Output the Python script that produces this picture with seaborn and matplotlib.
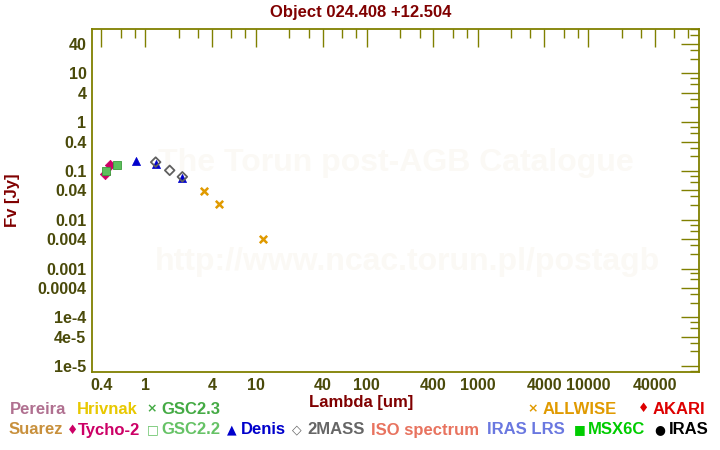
import numpy as np
import pandas as pd
import matplotlib
matplotlib.use("Agg")
import matplotlib.pyplot as plt
import seaborn as sns
from matplotlib.ticker import FixedLocator, NullFormatter

# ---- data ----
tycho_lam = [0.43, 0.478]
tycho_flux = [0.0865, 0.132]
gsc22_lam = [0.443, 0.556]
gsc22_flux = [0.098, 0.134]
denis_lam = [0.82, 1.24, 2.13]
denis_flux = [0.162, 0.138, 0.0726]
mass_lam = [1.24, 1.66, 2.16]
mass_flux = [0.152, 0.103, 0.076]
wise_lam = [3.38, 4.62, 11.5]
wise_flux = [0.0382, 0.021, 0.00402]

xtick_vals = [0.4, 1, 4, 10, 40, 100, 400, 1000, 4000, 10000, 40000]
xtick_labels = ["0.4", "1", "4", "10", "40", "100", "400", "1000", "4000", "10000", "40000"]
ytick_vals = [40, 10, 4, 1, 0.4, 0.1, 0.04, 0.01, 0.004, 0.001, 0.0004, 1e-4, 4e-5, 1e-5]
ytick_labels = ["40", "10", "4", "1", "0.4", "0.1", "0.04", "0.01", "0.004", "0.001",
                "0.0004", "1e-4", "4e-5", "1e-5"]

# (symbol, symbol_x, label, label_x, colour)
legend_row1 = [("", 0, "Pereira", 10, "#b07090"), ("", 0, "Hrivnak", 77, "#e8c800"),
               ("\u00d7", 146, "GSC2.3", 161, "#44aa44"),
               ("\u00d7", 527, "ALLWISE", 543, "#e09a00"),
               ("\u2666", 638, "AKARI", 653, "#dd0000")]
legend_row2 = [("", 0, "Suarez", 9, "#c8903c"), ("\u2666", 66.5, "Tycho-2", 77.5, "#cc0066"),
               ("\u25a1", 147, "GSC2.2", 161, "#66c266"),
               ("\u25b2", 227, "Denis", 241, "#0000cc"),
               ("\u25c7", 292, "2MASS", 307, "#666666"),
               ("", 0, "ISO spectrum", 371, "#e8735f"),
               ("", 0, "IRAS LRS", 487, "#6a78e0"),
               ("\u25a0", 574, "MSX6C", 588, "#00cc00"),
               ("\u25cf", 654, "IRAS", 669, "#000000")]

sns.set_theme(style="white")
plt.rcParams['font.family'] = ['Liberation Sans', 'DejaVu Sans']
plt.rcParams['font.weight'] = 'bold'

W, H = 720, 450
fig = plt.figure(figsize=(W / 100, H / 100), dpi=100)
ax = fig.add_axes([92 / W, 1 - 372 / H, (699 - 92) / W, (372 - 29.3) / H])
ax.set_facecolor("white")

olive = "#808000"
ticklab = "#4a4a0a"
darkred = "#800000"

# watermarks
ax.text(0.5, 0.61, "The Torun post-AGB Catalogue", transform=ax.transAxes,
        ha="center", va="center", fontsize=23, color="#fbf9f5", fontweight="bold", zorder=0)
ax.text(0.52, 0.32, "http://www.ncac.torun.pl/postagb", transform=ax.transAxes,
        ha="center", va="center", fontsize=23, color="#fbf9f5", fontweight="bold", zorder=0)

sns.scatterplot(x=tycho_lam, y=tycho_flux, ax=ax, marker="D", s=28,
                color="#cc0066", edgecolor="#cc0066", linewidth=0.5, zorder=2)
sns.scatterplot(x=gsc22_lam, y=gsc22_flux, ax=ax, marker="s", s=30,
                color="#5cbf5c", edgecolor="#3c9c3c", linewidth=0.6, zorder=3)
sns.scatterplot(x=denis_lam, y=denis_flux, ax=ax, marker="^", s=34,
                color="#0000cc", edgecolor="#0000cc", linewidth=0.5, zorder=3)
sns.scatterplot(x=mass_lam, y=mass_flux, ax=ax, marker="D", s=24,
                facecolor="none", edgecolor="#606060", linewidth=1.3, zorder=4)
sns.scatterplot(x=wise_lam, y=wise_flux, ax=ax, marker="x", s=28,
                color="#e09a00", linewidth=1.8, zorder=3)

ax.set_xscale("log")
ax.set_yscale("log")
ax.set_xlim(0.33, 1.0e5)
ax.set_ylim(7.6e-6, 80)

ax.xaxis.set_major_locator(FixedLocator(xtick_vals))
ax.set_xticklabels(xtick_labels)
ax.yaxis.set_major_locator(FixedLocator(ytick_vals))
ax.set_yticklabels(ytick_labels)

minor = [m * 10.0 ** e for e in range(-7, 7) for m in (2, 3, 6, 8)]
ax.xaxis.set_minor_locator(FixedLocator(minor))
ax.yaxis.set_minor_locator(FixedLocator(minor))
ax.xaxis.set_minor_formatter(NullFormatter())
ax.yaxis.set_minor_formatter(NullFormatter())

ax.tick_params(which="major", direction="in", length=13, width=1.0, color=olive,
               top=True, right=True, labelsize=11.5, labelcolor=ticklab, pad=4)
ax.tick_params(which="minor", direction="in", length=6.5, width=1.0, color=olive,
               top=True, right=True)
for lab in ax.get_xticklabels() + ax.get_yticklabels():
    lab.set_fontweight("bold")
for sp in ax.spines.values():
    sp.set_color(olive)
    sp.set_linewidth(1.3)
ax.grid(False)

fig.text(361 / W, 1 - 12 / H, "Object 024.408 +12.504", ha="center", va="center",
         fontsize=12, fontweight="bold", color=darkred)
fig.text(361 / W, 1 - 403 / H, "Lambda [um]", ha="center", va="center",
         fontsize=12, fontweight="bold", color=darkred)
fig.text(12 / W, 1 - 200 / H, "Fv [Jy]", ha="center", va="center", rotation=90,
         fontsize=12, fontweight="bold", color=darkred)

for row, yy in ((legend_row1, 409), (legend_row2, 430)):
    for sym, sx, txt, lx, col in row:
        if sym:
            fig.text(sx / W, 1 - yy / H, sym, ha="left", va="center", fontsize=9,
                     fontweight="bold", color=col, family=['DejaVu Sans'])
        fig.text(lx / W, 1 - yy / H, txt, ha="left", va="center", fontsize=12,
                 fontweight="bold", color=col)

fig.savefig("out.png", dpi=100, facecolor="white")
